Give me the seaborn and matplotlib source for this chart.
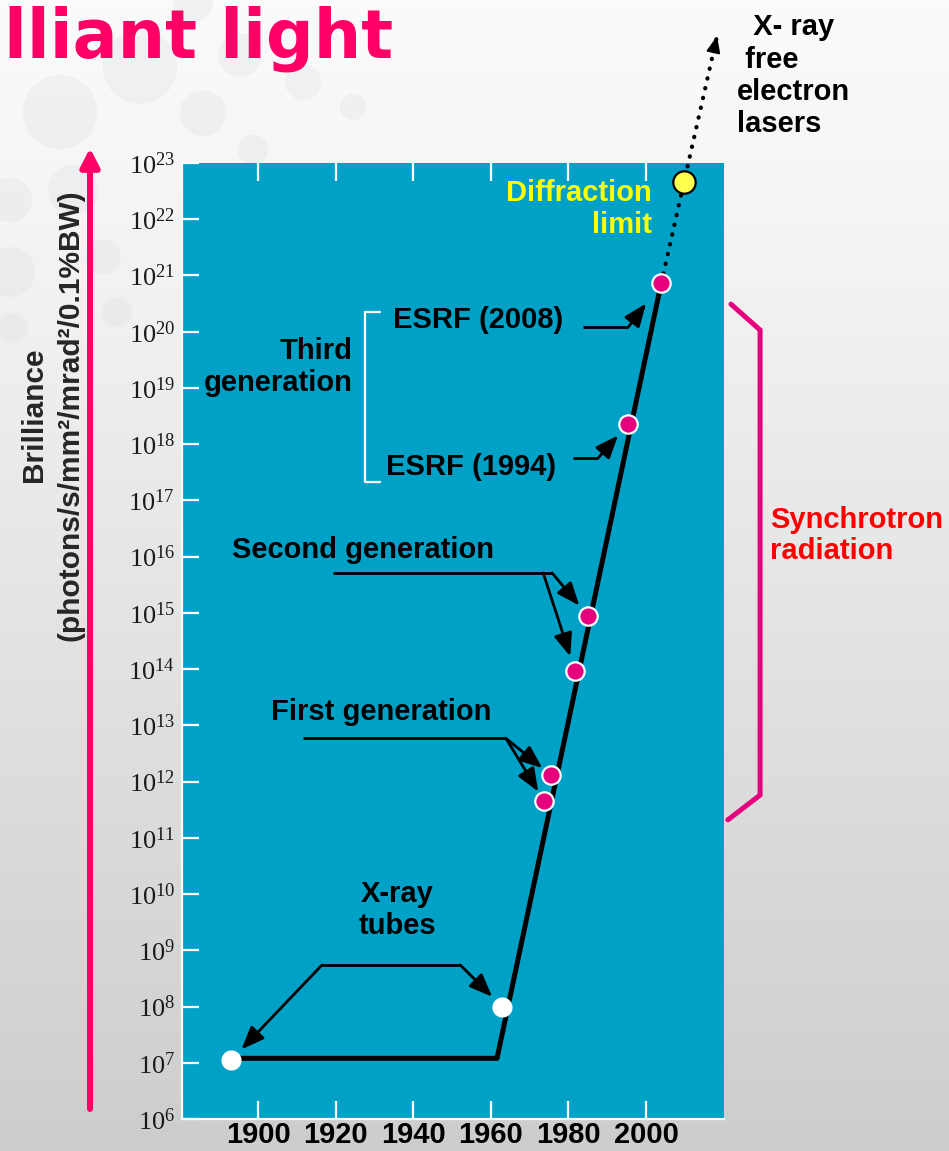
import numpy as np
import pandas as pd
import matplotlib
matplotlib.use("Agg")
import matplotlib.pyplot as plt
import seaborn as sns
from matplotlib.patches import Circle
from matplotlib.colors import LinearSegmentedColormap
from matplotlib.ticker import FixedLocator, FuncFormatter, NullLocator

# ================= data =================
tube_years = [1893.0, 1962.9]
tube_brill = [1.1e7, 1.0e8]
first_years = [1973.7, 1975.5]
first_brill = [4.5e11, 1.3e12]
second_years = [1981.7, 1985.1]
second_brill = [9.3e13, 8.7e14]
third_years = [1995.4, 2003.9]
third_brill = [2.3e18, 7.2e20]
limit_years = [2009.8]
limit_brill = [4.6e22]

# solid trend line and dotted FEL extrapolation
trend_years = [1893.0, 1961.6, 2003.9]
trend_brill = [1.2e7, 1.2e7, 7.2e20]
fel_years = [2003.9, 2009.8, 2018.3]
fel_brill = [7.2e20, 4.6e22, 1.8e25]

year_ticks = [1900, 1920, 1940, 1960, 1980, 2000]
decades = list(range(6, 24))

# ================= style =================
BLUE = "#00A1C6"
PINK = "#E6007E"
HOT = "#FF0066"

sns.set_theme(style="white")
plt.rcParams["font.family"] = ["Liberation Sans", "DejaVu Sans"]
plt.rcParams["mathtext.fontset"] = "custom"
plt.rcParams["mathtext.rm"] = "Liberation Serif"
plt.rcParams["mathtext.it"] = "Liberation Serif:italic"
plt.rcParams["mathtext.bf"] = "Liberation Serif:bold"

W, H = 949, 1151
fig = plt.figure(figsize=(W / 100, H / 100), dpi=100)

# background: grey gradient with faint bubbles (pixel coordinates)
bg = fig.add_axes([0, 0, 1, 1], zorder=0)
cmap = LinearSegmentedColormap.from_list("bg", [(0, "#FBFBFB"), (0.25, "#F2F2F2"), (1, "#CDCDCD")])
bg.imshow(np.linspace(0, 1, 256)[:, None], cmap=cmap, extent=[0, W, H, 0], aspect="auto")
bg.set_xlim(0, W)
bg.set_ylim(H, 0)
bg.axis("off")
bubbles = [(60, 112, 37), (140, 67, 37), (203, 113, 23), (240, 55, 22), (303, 82, 18),
           (353, 107, 13), (193, 2, 20), (253, 150, 15), (10, 200, 22), (73, 190, 25),
           (103, 257, 18), (10, 272, 25), (117, 312, 15), (13, 328, 15)]
for cx, cy, r in bubbles:
    bg.add_patch(Circle((cx, cy), r, color="#DCE0E5", alpha=0.32, lw=0))

# big pink arrow on the left
bg.annotate("", xy=(90, 148), xytext=(90, 1109),
            arrowprops=dict(arrowstyle="-|>,head_length=0.55,head_width=0.28", color=HOT,
                            lw=4.3, mutation_scale=20, shrinkA=0, shrinkB=0))

fig.text(4 / W, 1 - 57 / H, "lliant light", color=HOT, fontsize=48, fontweight="bold",
         family="DejaVu Sans", va="baseline", ha="left")
fig.text(52 / W, 1 - 415 / H, "Brilliance\n(photons/s/mm²/mrad²/0.1%BW)", rotation=90,
         ha="center", va="center", fontsize=21.5, fontweight="bold", linespacing=1.4)

# ================= main axes =================
ax = fig.add_axes([182 / W, 1 - 1119 / H, (724 - 182) / W, (1119 - 163) / H], zorder=1)
ax.set_facecolor(BLUE)
ax.set_yscale("log")
ax.set_xlim(1880.4, 2020.1)
ax.set_ylim(1e6, 1e23)

trend = pd.DataFrame({"year": trend_years, "brilliance": trend_brill})
sns.lineplot(data=trend, x="year", y="brilliance", ax=ax, color="black", lw=3.6,
             sort=False, estimator=None, zorder=3)

fel = pd.DataFrame({"year": fel_years, "brilliance": fel_brill})
sns.lineplot(data=fel, x="year", y="brilliance", ax=ax, color="black", lw=3,
             linestyle=(0, (0.1, 2.3)), dash_capstyle="round", sort=False,
             estimator=None, zorder=3, clip_on=False)
ax.annotate("", xy=(fel_years[-1], fel_brill[-1]), xytext=(fel_years[-2], fel_brill[-2]),
            arrowprops=dict(arrowstyle="-|>,head_length=0.7,head_width=0.3", color="black",
                            lw=1.5, mutation_scale=14, shrinkA=98, shrinkB=0),
            annotation_clip=False)

tubes = pd.DataFrame({"year": tube_years, "brilliance": tube_brill})
sns.scatterplot(data=tubes, x="year", y="brilliance", ax=ax, color="white", s=210,
                linewidth=0, zorder=5)
synch = pd.DataFrame({"year": first_years + second_years + third_years,
                      "brilliance": first_brill + second_brill + third_brill})
sns.scatterplot(data=synch, x="year", y="brilliance", ax=ax, color=PINK, s=175,
                edgecolor="white", linewidth=1.6, zorder=5)
limit = pd.DataFrame({"year": limit_years, "brilliance": limit_brill})
sns.scatterplot(data=limit, x="year", y="brilliance", ax=ax, color="#FFFF4D", s=260,
                edgecolor="black", linewidth=1.6, zorder=6, clip_on=False)

# axes cosmetics
for side in ["top", "right"]:
    ax.spines[side].set_visible(False)
for side in ["left", "bottom"]:
    ax.spines[side].set_color("white")
    ax.spines[side].set_linewidth(1.6)
ax.xaxis.set_major_locator(FixedLocator(year_ticks))
ax.xaxis.set_minor_locator(NullLocator())
ax.yaxis.set_major_locator(FixedLocator([10.0 ** k for k in decades]))
ax.yaxis.set_minor_locator(NullLocator())
ax.yaxis.set_major_formatter(FuncFormatter(lambda v, p: r"$10^{%d}$" % round(np.log10(v))))
ax.tick_params(axis="x", which="major", direction="in", top=True, bottom=True, length=13,
               width=1.6, color="white", labelsize=21, pad=1.5, labelcolor="black")
ax.tick_params(axis="y", which="major", direction="in", left=True, length=12, width=1.6,
               color="white", labelsize=19, pad=5, labelcolor="#1A1A1A")
for lab in ax.get_xticklabels():
    lab.set_fontweight("bold")
ax.set_xlabel("")
ax.set_ylabel("")
ax.grid(False)

# ================= annotations =================
TXT = dict(fontsize=21, fontweight="bold", color="black", zorder=7)
ARW = dict(arrowstyle="-|>,head_length=0.7,head_width=0.28", color="black", lw=2,
           mutation_scale=20, shrinkA=0)


def bar(x0, x1, y):
    ax.plot([x0, x1], [y, y], color="black", lw=2, solid_capstyle="butt", zorder=4)


def leader(start, end, shrink):
    ax.annotate("", xy=end, xytext=start, arrowprops=dict(ARW, shrinkB=shrink), zorder=4)


# X-ray tubes
ax.text(1935.8, 10 ** 9.72, "X-ray\ntubes", ha="center", va="center", linespacing=1.2, **TXT)
y_t = 10 ** 8.74
bar(1916.5, 1952.1, y_t)
leader((1916.5, y_t), (tube_years[0], tube_brill[0]), 11)
leader((1952.1, y_t), (tube_years[1], tube_brill[1]), 10)

# First generation
ax.text(1931.7, 10 ** 13.24, "First generation", ha="center", va="center", **TXT)
y_f = 10 ** 12.77
bar(1911.6, 1963.9, y_f)
leader((1963.9, y_f), (first_years[1], first_brill[1]), 8)
leader((1963.9, y_f), (first_years[0], first_brill[0]), 8)

# Second generation
ax.text(1927.1, 10 ** 16.12, "Second generation", ha="center", va="center", **TXT)
y_s = 10 ** 15.71
bar(1919.3, 1975.8, y_s)
leader((1973.5, y_s), (second_years[0], second_brill[0]), 11)
leader((1975.8, y_s), (second_years[1], second_brill[1]), 10)

# Third generation with white bracket
ax.text(1924.5, 10 ** 19.37, "Third\ngeneration", ha="right", va="center",
        multialignment="right", linespacing=1.15, **TXT)
ax.plot([1931.4, 1927.6, 1927.6, 1931.4], [10 ** 20.35, 10 ** 20.35, 10 ** 17.33, 10 ** 17.33],
        color="white", lw=1.6, zorder=4)
ax.text(1956.7, 10 ** 20.21, "ESRF (2008)", ha="center", va="center", **TXT)
ax.text(1954.9, 10 ** 17.59, "ESRF (1994)", ha="center", va="center", **TXT)
y_e8 = 10 ** 20.08
bar(1983.8, 1995.4, y_e8)
leader((1995.4, y_e8), (third_years[1], third_brill[1]), 18)
y_e4 = 10 ** 17.75
bar(1981.2, 1987.6, y_e4)
leader((1987.6, y_e4), (third_years[0], third_brill[0]), 11)

# Diffraction limit
ax.text(2001.5, 10 ** 22.18, "Diffraction\nlimit", ha="right", va="center",
        multialignment="right", linespacing=1.2, fontsize=21, fontweight="bold",
        color="#FFFF00", zorder=7)

# X-ray FEL label (outside the axes)
ax.text(2023.5, 10 ** 24.55, "  X- ray\n free\nelectron\nlasers", ha="left", va="center",
        linespacing=1.2, **TXT)

# Synchrotron radiation bracket
ax.plot([2021.9, 2029.4, 2029.4, 2021.1], [10 ** 20.49, 10 ** 20.03, 10 ** 11.76, 10 ** 11.32],
        color=PINK, lw=3.6, clip_on=False, solid_joinstyle="miter", zorder=4)
ax.text(2032.0, 10 ** 16.37, "Synchrotron\nradiation", ha="left", va="center",
        linespacing=1.15, fontsize=21, fontweight="bold", color="#FF0000", zorder=7)

plt.savefig("out.png", dpi=100)
